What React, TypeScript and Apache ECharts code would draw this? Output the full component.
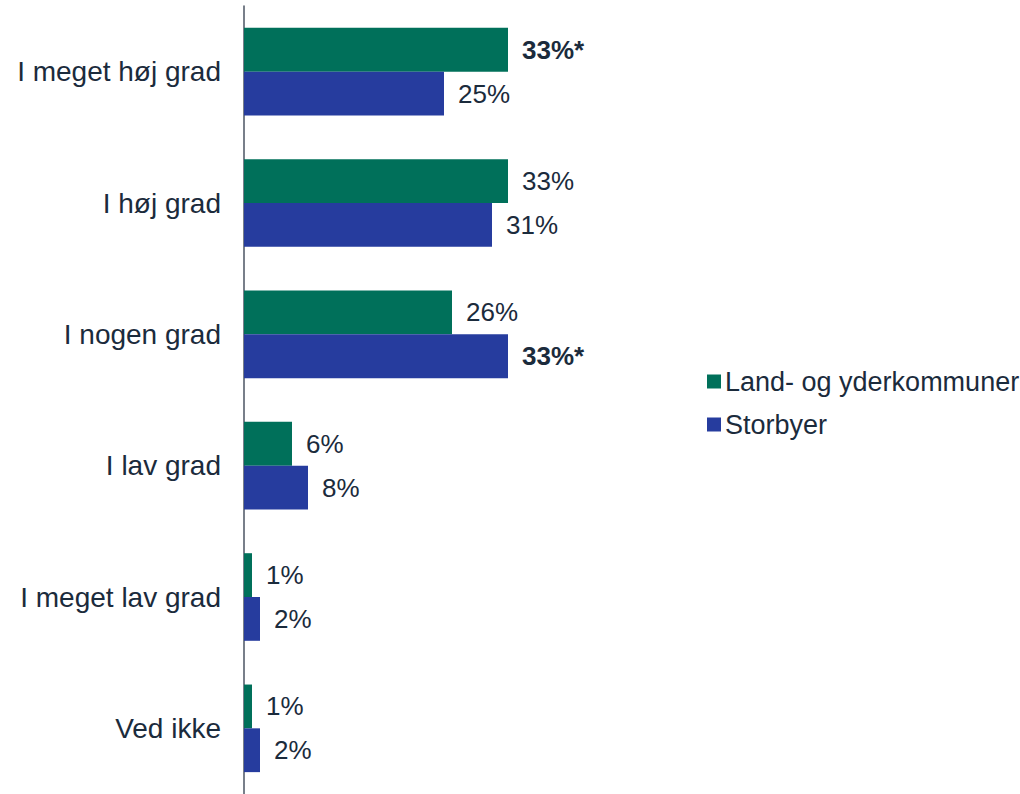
import React, { useEffect, useRef } from "react";
import * as echarts from "echarts";

const categories = [
  "I meget høj grad",
  "I høj grad",
  "I nogen grad",
  "I lav grad",
  "I meget lav grad",
  "Ved ikke",
];
const seriesNames = ["Land- og yderkommuner", "Storbyer"];
const landValues = [33, 33, 26, 6, 1, 1];
const storbyValues = [25, 31, 33, 8, 2, 2];
const landSignificant = [true, false, false, false, false, false];
const storbySignificant = [false, false, true, false, false, false];

const GREEN = "#00705a";
const BLUE = "#263c9e";
const TEXT = "#1b2b3c";
const FONT = "'Liberation Sans', Arial, sans-serif";

function makeData(values: number[], sig: boolean[]) {
  return values.map((v, i) => ({
    value: v,
    label: {
      formatter: sig[i] ? `{b|${v}%*}` : `${v}%`,
    },
  }));
}

export default function App() {
  const ref = useRef<HTMLDivElement>(null);
  useEffect(() => {
    if (!ref.current) return;
    const chart = echarts.init(ref.current, undefined, { renderer: "svg" });
    const labelStyle = {
      show: true,
      position: "right",
      distance: 14,
      color: TEXT,
      fontSize: 26,
      fontFamily: FONT,
      rich: {
        b: { fontWeight: "bold", fontSize: 26, fontFamily: FONT, color: TEXT },
      },
    };
    chart.setOption({
      animation: false,
      backgroundColor: "#ffffff",
      textStyle: { fontFamily: FONT },
      grid: { left: 244, top: 6, width: 400, height: 792, containLabel: false },
      legend: {
        orient: "vertical",
        left: 702,
        top: 363,
        icon: "rect",
        itemWidth: 14,
        itemHeight: 14,
        itemGap: 16,
        textStyle: { color: TEXT, fontSize: 27, fontFamily: FONT, padding: [0, 0, 0, -1] },
        data: seriesNames,
      },
      xAxis: {
        type: "value",
        min: 0,
        max: 50,
        show: false,
      },
      yAxis: {
        type: "category",
        data: categories,
        inverse: true,
        axisLine: { show: true, lineStyle: { color: "#4b5563", width: 1.5 } },
        axisTick: { show: false },
        axisLabel: { color: TEXT, fontSize: 28, fontFamily: FONT, margin: 23 },
        splitLine: { show: false },
      },
      series: [
        {
          name: seriesNames[0],
          type: "bar",
          data: makeData(landValues, landSignificant),
          itemStyle: { color: GREEN },
          barGap: "0%",
          barCategoryGap: "33.3%",
          label: labelStyle,
        },
        {
          name: seriesNames[1],
          type: "bar",
          data: makeData(storbyValues, storbySignificant),
          itemStyle: { color: BLUE },
          barGap: "0%",
          barCategoryGap: "33.3%",
          label: labelStyle,
        },
      ],
    });
    return () => chart.dispose();
  }, []);
  return (
    <div
      ref={ref}
      style={{ position: "fixed", left: 0, top: 0, width: 1020, height: 794 }}
    />
  );
}
